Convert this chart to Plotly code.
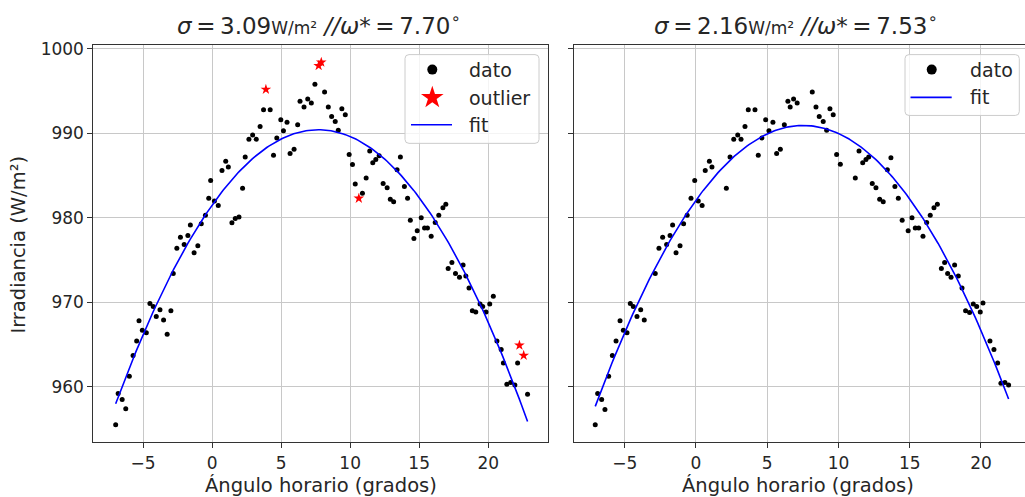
import plotly.graph_objects as go
import numpy as np

# ---------------- data ----------------
left_x = [-6.98, -6.8, -6.51, -6.25, -5.99, -5.72, -5.46, -5.29, -5.05, -4.76,
          -4.5, -4.26, -4.04, -3.77, -3.51, -3.25, -2.98, -2.81, -2.55, -2.29,
          -2.02, -1.75, -1.57, -1.3, -1.03, -0.78, -0.48, -0.24, -0.1, 0.17,
          0.45, 0.72, 0.99, 1.18, 1.44, 1.68, 1.95, 2.21, 2.4, 2.67,
          2.94, 3.2, 3.48, 3.73, 4.21, 4.45, 4.69, 4.98, 5.17, 5.43,
          5.65, 5.94, 6.2, 6.37, 6.66, 6.93, 7.19, 7.45, 8.15, 8.42,
          8.66, 8.92, 9.14, 9.4, 9.65, 9.93, 10.17, 10.37, 10.89, 11.16,
          11.42, 11.64, 11.86, 12.1, 12.39, 12.68, 12.91, 13.15, 13.4, 13.64,
          13.93, 14.16, 14.36, 14.62, 14.86, 15.15, 15.39, 15.6, 15.87, 16.16,
          16.42, 16.72, 16.93, 17.1, 17.37, 17.63, 17.92, 18.18, 18.38, 18.61,
          18.85, 19.1, 19.41, 19.6, 19.84, 20.11, 20.37, 20.63, 20.94, 21.1,
          21.35, 21.63, 21.93, 22.13, 22.85]
left_y = [955.5, 959.2, 958.5, 957.4, 961.25, 963.7, 965.4, 967.8, 966.7, 966.4,
          969.85, 969.5, 968.3, 969.1, 967.9, 966.2, 969.0, 973.4, 976.4, 977.7,
          976.85, 977.9, 979.15, 975.85, 976.7, 979.3, 980.3, 982.3, 984.4, 982.0,
          981.45, 985.6, 986.7, 986.0, 979.4, 979.9, 980.1, 983.5, 987.2, 989.3,
          989.8, 989.3, 990.8, 992.8, 992.8, 987.4, 989.45, 991.6, 990.3, 991.3,
          987.6, 988.1, 991.0, 993.8, 993.1, 994.05, 993.6, 995.8, 994.9, 993.1,
          992.0, 991.4, 990.35, 992.9, 992.2, 987.5, 986.3, 984.0, 982.9, 984.7,
          987.9, 986.5, 986.9, 987.35, 984.05, 983.55, 982.2, 981.9, 985.7, 987.2,
          983.7, 982.3, 979.7, 977.55, 978.45, 980.0, 978.8, 978.8, 977.8, 979.45,
          980.3, 981.2, 981.6, 974.0, 974.7, 973.4, 972.95, 974.4, 973.1, 971.7,
          969.0, 968.85, 969.8, 969.5, 968.85, 969.8, 970.7, 965.4, 964.4, 962.8,
          960.3, 960.5, 960.2, 962.8, 959.1]

outlier_x = [3.9, 7.72, 7.91, 10.63, 22.26, 22.57]
outlier_y = [995.2, 998.0, 998.4, 982.3, 964.9, 963.7]

right_x = [-7.07, -6.9, -6.62, -6.39, -6.13, -5.87, -5.61, -5.33, -5.1, -4.84,
           -4.61, -4.4, -4.14, -3.88, -3.63, -2.86, -2.6, -2.34, -2.06, -1.82,
           -1.64, -1.4, -1.12, -0.87, -0.62, -0.35, -0.09, 0.16, 0.43, 0.65,
           0.94, 1.12, 2.13, 2.39, 2.65, 2.93, 3.16, 3.44, 3.67, 4.14,
           4.37, 4.63, 4.89, 5.12, 5.4, 5.66, 5.92, 6.2, 6.45, 6.61,
           6.85, 7.1, 8.16, 8.42, 8.65, 8.93, 9.17, 9.4, 9.63, 9.87,
           10.13, 11.18, 11.44, 11.7, 11.93, 12.12, 12.37, 12.63, 12.89, 13.14,
           13.43, 13.68, 13.96, 14.2, 14.47, 14.89, 15.16, 15.39, 15.63, 15.93,
           16.19, 16.44, 16.7, 16.94, 17.22, 17.45, 17.66, 17.9, 18.15, 18.41,
           18.67, 18.92, 19.2, 19.46, 19.7, 19.95, 20.14, 20.63, 20.91, 21.17,
           21.4, 21.68, 21.94]
right_y = [955.5, 959.2, 958.5, 957.3, 961.25, 963.7, 965.4, 967.8, 966.7, 966.4,
           969.85, 969.5, 968.3, 969.1, 967.9, 973.4, 976.4, 977.7, 976.85, 977.9,
           979.15, 975.85, 976.7, 979.3, 980.3, 982.3, 984.4, 982.0, 981.45, 985.6,
           986.7, 986.0, 983.5, 987.2, 989.3, 989.8, 989.3, 990.8, 992.8, 992.8,
           987.4, 989.45, 991.6, 990.3, 991.3, 987.6, 988.1, 991.0, 993.8, 993.1,
           994.05, 993.6, 994.9, 993.1, 992.0, 991.4, 990.35, 992.9, 992.2, 987.5,
           986.35, 984.7, 987.9, 986.5, 986.9, 987.2, 984.05, 983.55, 982.2, 981.9,
           985.7, 987.1, 983.7, 982.3, 979.7, 978.45, 980.0, 978.8, 978.8, 977.8,
           979.45, 980.3, 981.2, 981.6, 974.0, 974.7, 973.4, 972.95, 974.4, 973.1,
           971.7, 969.0, 968.8, 969.8, 969.5, 968.85, 969.9, 965.4, 964.4, 962.8,
           960.4, 960.5, 960.2]

# parabolic fit parameters: y = k - a (x - h)^2
fit_left = dict(h=7.70, k=990.42, a=0.1505)
fit_right = dict(h=7.53, k=990.93, a=0.156)

titles = ["<i>σ</i>\u2009=\u20093.09<span style='font-size:17px'>W/m²</span> <i>//ω</i>*\u2009=\u20097.70<sup>∘</sup>",
          "<i>σ</i>\u2009=\u20092.16<span style='font-size:17px'>W/m²</span> <i>//ω</i>*\u2009=\u20097.53<sup>∘</sup>"]
x_ticks = [-5, 0, 5, 10, 15, 20]
y_ticks = [960, 970, 980, 990, 1000]

# ---------------- layout helpers ----------------
W, H = 1025, 497
FONT = "DejaVu Sans"
TXT = "#262626"
left_dom = [93.3 / W, 548 / W]
right_dom = [574.3 / W, 1.0]
y_dom = [1 - 441.7 / H, 1 - 39 / H]


def fit_curve(xs, p):
    xx = np.linspace(min(xs), max(xs), 200)
    return xx, p["k"] - p["a"] * (xx - p["h"]) ** 2


fig = go.Figure()

# left panel
fig.add_trace(go.Scatter(x=left_x, y=left_y, mode="markers", name="dato",
                         marker=dict(color="black", size=5), xaxis="x", yaxis="y"))
fig.add_trace(go.Scatter(x=outlier_x, y=outlier_y, mode="markers", name="outlier",
                         marker=dict(color="red", size=8, symbol="star", line=dict(width=0)),
                         xaxis="x", yaxis="y"))
fx, fy = fit_curve(left_x, fit_left)
fig.add_trace(go.Scatter(x=fx, y=fy, mode="lines", name="fit",
                         line=dict(color="#0000ff", width=1.6), xaxis="x", yaxis="y"))

# right panel
fig.add_trace(go.Scatter(x=right_x, y=right_y, mode="markers", name="dato",
                         marker=dict(color="black", size=5), xaxis="x2", yaxis="y2"))
fx2, fy2 = fit_curve(right_x, fit_right)
fig.add_trace(go.Scatter(x=fx2, y=fy2, mode="lines", name="fit",
                         line=dict(color="#0000ff", width=1.6), xaxis="x2", yaxis="y2"))

# legend samples on a pixel-space overlay axis
leg_marker_x = [432.3, 432.3, 931.7]
leg_marker_y = [63.5, 92.0, 63.5]
fig.add_trace(go.Scatter(x=[leg_marker_x[0], leg_marker_x[2]], y=[leg_marker_y[0], leg_marker_y[2]],
                         mode="markers", marker=dict(color="black", size=10),
                         xaxis="x3", yaxis="y3", hoverinfo="skip"))
fig.add_trace(go.Scatter(x=[leg_marker_x[1]], y=[leg_marker_y[1]], mode="markers",
                         marker=dict(color="red", size=17, symbol="star", line=dict(width=0)),
                         xaxis="x3", yaxis="y3", hoverinfo="skip"))
fig.add_trace(go.Scatter(x=[411, 452], y=[119.5, 119.5], mode="lines",
                         line=dict(color="#0000ff", width=1.6), xaxis="x3", yaxis="y3", hoverinfo="skip"))
fig.add_trace(go.Scatter(x=[910.5, 951.7], y=[91.7, 91.7], mode="lines",
                         line=dict(color="#0000ff", width=1.6), xaxis="x3", yaxis="y3", hoverinfo="skip"))


def rounded(x0, y0, x1, y1, r=4):
    return (f"M {x0+r},{y0} L {x1-r},{y0} Q {x1},{y0} {x1},{y0+r} L {x1},{y1-r} "
            f"Q {x1},{y1} {x1-r},{y1} L {x0+r},{y1} Q {x0},{y1} {x0},{y1-r} "
            f"L {x0},{y0+r} Q {x0},{y0} {x0+r},{y0} Z")


shapes = [
    dict(type="path", path=rounded(405, 48.3, 539, 138.3), xref="x3", yref="y3",
         fillcolor="rgba(255,255,255,0.8)", line=dict(color="#cccccc", width=1), layer="below"),
    dict(type="path", path=rounded(905, 48.3, 1019.3, 110), xref="x3", yref="y3",
         fillcolor="rgba(255,255,255,0.8)", line=dict(color="#cccccc", width=1), layer="below"),
]

annotations = []
for txt, xx, yy in [("dato", 467.0, 63.5), ("outlier", 467.0, 92.0), ("fit", 467.0, 119.5),
                    ("dato", 967.5, 63.5), ("fit", 967.5, 91.7)]:
    annotations.append(dict(text=txt, x=xx, y=yy, xref="x3", yref="y3", showarrow=False,
                            xanchor="left", yanchor="middle", font=dict(size=19, color=TXT, family=FONT)))
# titles
for t, cx in zip(titles, [319, 796]):
    annotations.append(dict(text=t, x=cx / W, y=1 - 17 / H, xref="paper", yref="paper",
                            showarrow=False, xanchor="center", yanchor="middle",
                            font=dict(size=23, color=TXT, family=FONT)))
# axis titles
for cx in [320.5, 798]:
    annotations.append(dict(text="Ángulo horario (grados)", x=cx / W, y=1 - 485 / H,
                            xref="paper", yref="paper", showarrow=False, xanchor="center",
                            yanchor="middle", font=dict(size=19.5, color=TXT, family=FONT)))
annotations.append(dict(text="Irradiancia (W/m²)", x=19 / W, y=1 - 241 / H, xref="paper", yref="paper",
                        showarrow=False, textangle=-90, xanchor="center", yanchor="middle",
                        font=dict(size=19.5, color=TXT, family=FONT)))

common_x = dict(tickvals=x_ticks, ticks="outside", ticklen=5, tickwidth=1, tickcolor="#333",
                showline=True, linecolor="#333", linewidth=1, mirror=True,
                showgrid=True, gridcolor="#c8c8c8", gridwidth=1, zeroline=False,
                tickfont=dict(size=17, color=TXT, family=FONT))
common_y = dict(tickvals=y_ticks, ticks="outside", ticklen=5, tickwidth=1, tickcolor="#333",
                showline=True, linecolor="#333", linewidth=1,
                showgrid=True, gridcolor="#c8c8c8", gridwidth=1, zeroline=False,
                range=[953.4, 1000.4], domain=y_dom,
                tickfont=dict(size=17, color=TXT, family=FONT))

fig.update_layout(
    width=W, height=H, margin=dict(l=0, r=0, t=0, b=0),
    paper_bgcolor="white", plot_bgcolor="rgba(0,0,0,0)", showlegend=False,
    font=dict(family=FONT, color=TXT),
    xaxis=dict(domain=left_dom, range=[-8.6, 24.33], anchor="y", **common_x),
    yaxis=dict(anchor="x", mirror=True, **common_y),
    xaxis2=dict(domain=right_dom, range=[-8.54, 23.09], anchor="y2", **common_x),
    yaxis2=dict(anchor="x2", mirror=False, showticklabels=False, **common_y),
    xaxis3=dict(domain=[0, 1], range=[0, W], anchor="y3", visible=False, fixedrange=True),
    yaxis3=dict(domain=[0, 1], range=[H, 0], anchor="x3", visible=False, fixedrange=True),
    shapes=shapes, annotations=annotations,
)

fig.write_html("out.html")
